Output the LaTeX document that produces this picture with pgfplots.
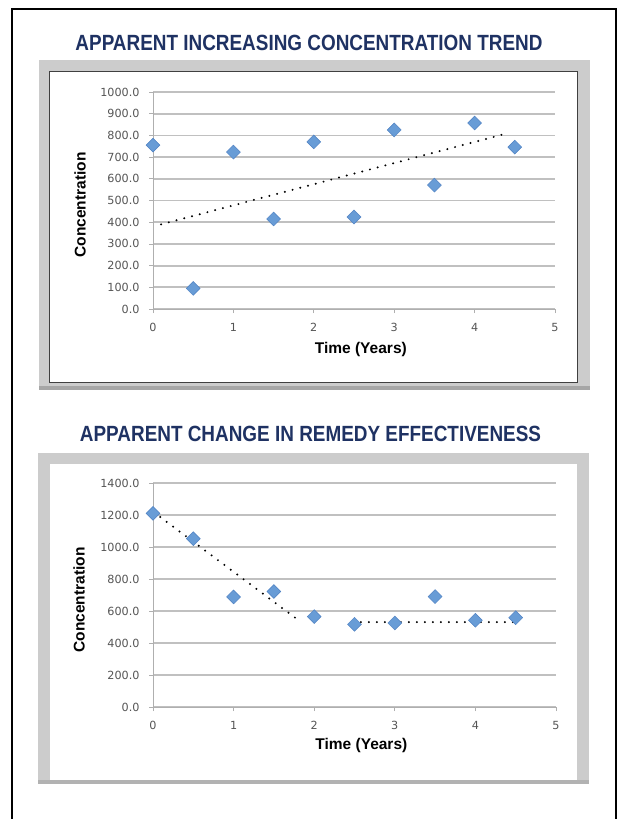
\documentclass[border=0pt]{standalone}
\usepackage{fontspec}
\setmainfont{Liberation Sans}
\newfontfamily\tickfont{DejaVu Sans}
\usepackage{graphicx}
\usepackage{pgfplots}
\pgfplotsset{compat=1.18}
\definecolor{navy}{RGB}{31,50,99}
\definecolor{panelgray}{RGB}{204,204,204}
\definecolor{gridgray}{RGB}{192,192,192}
\definecolor{axisgray}{RGB}{175,175,175}
\definecolor{tickgray}{RGB}{85,85,85}
\definecolor{markfill}{RGB}{104,156,214}
\definecolor{markdraw}{RGB}{80,130,195}
\pgfplotsset{
  conc/.style={
    scale only axis,
    anchor=south west,
    xmin=0, xmax=5, ymin=0,
    xtick={0,1,2,3,4,5},
    axis x line=bottom, axis y line=left,
    axis line style={draw=axisgray, line width=0.8pt, -},
    tick align=outside,
    major tick length=4pt,
    tick style={draw=axisgray, line width=0.8pt},
    ymajorgrids,
    grid style={draw=gridgray, line width=1.8pt},
    /pgf/number format/assume math mode=true,
    tick label style={font=\tickfont\fontsize{11.2}{13}\selectfont, text=tickgray},
    y tick label style={xshift=-6pt, /pgf/number format/fixed, /pgf/number format/fixed zerofill,
      /pgf/number format/precision=1, /pgf/number format/1000 sep={}},
    x tick label style={yshift=-7pt, /pgf/number format/fixed},
    clip=false,
  },
  pts/.style={only marks, mark=square*, mark size=4.9pt,
    mark options={rotate=45, fill=markfill, draw=markdraw, line width=0.5pt}},
  trend/.style={black, line width=2.2pt, line cap=round, dash pattern=on 0pt off 8pt, no marks},
}
\begin{document}
\begin{tikzpicture}
\path[use as bounding box] (0pt,0pt) rectangle (621pt,-819pt);
\fill[white] (0pt,0pt) rectangle (621pt,-819pt);
% outer page frame
\draw[black, line width=1.8pt] (12pt,-819pt) -- (12pt,-9pt) -- (616pt,-9pt) -- (616pt,-819pt);
% panel 1
\fill[panelgray] (39pt,-60pt) rectangle (590pt,-390pt);
\fill[gray!70] (39pt,-386pt) rectangle (590pt,-390pt);
\filldraw[fill=white, draw=black!75, line width=1pt] (49pt,-71pt) rectangle (577pt,-382pt);
% panel 2
\fill[panelgray] (38pt,-453pt) rectangle (589pt,-782pt);
\fill[white] (50pt,-464pt) rectangle (577pt,-780pt);
\fill[gray!60] (38pt,-780pt) rectangle (589pt,-784pt);
% titles
\node[text=navy, font=\bfseries\fontsize{22}{26}\selectfont] at (309pt,-43pt)
  {\scalebox{0.86}[1]{APPARENT INCREASING CONCENTRATION TREND}};
\node[text=navy, font=\bfseries\fontsize{22}{26}\selectfont] at (310.5pt,-434pt)
  {\scalebox{0.86}[1]{APPARENT CHANGE IN REMEDY EFFECTIVENESS}};

\begin{axis}[conc,
  at={(153pt,-309pt)}, width=402pt, height=217pt,
  ymax=1000, ytick={0,100,...,1000},
  xlabel={Time (Years)}, ylabel={Concentration},
  xlabel style={at={(axis description cs:0.517,0)}, anchor=center, yshift=-40pt,
    font=\bfseries\fontsize{15.5}{18}\selectfont, text=black},
  ylabel style={at={(axis description cs:0,0.479)}, rotate=0, anchor=center, yshift=73pt,
    font=\bfseries\fontsize{15.5}{18}\selectfont, text=black},
]
\addplot[pts] coordinates {
  (0,755) (0.5,95) (1,723) (1.5,415) (2,770) (2.5,424) (3,825) (3.5,571) (4,857) (4.5,746)
};
\addplot[trend] coordinates {(0.1,390) (4.37,806)};
\end{axis}

\begin{axis}[conc,
  at={(153pt,-707pt)}, width=403pt, height=224pt,
  ymax=1400, ytick={0,200,...,1400},
  xlabel={Time (Years)}, ylabel={Concentration},
  xlabel style={at={(axis description cs:0.517,0)}, anchor=center, yshift=-38pt,
    font=\bfseries\fontsize{15.5}{18}\selectfont, text=black},
  ylabel style={at={(axis description cs:0,0.478)}, anchor=center, yshift=74pt,
    font=\bfseries\fontsize{15.5}{18}\selectfont, text=black},
]
\addplot[pts] coordinates {
  (0,1210) (0.5,1052) (1,688) (1.5,722) (2,565) (2.5,517) (3,525) (3.5,690) (4,542) (4.5,558)
};
\addplot[trend] coordinates {(0.09,1187) (1.83,533)};
\addplot[trend] coordinates {(2.48,531) (4.53,531)};
\end{axis}
\end{tikzpicture}
\end{document}
